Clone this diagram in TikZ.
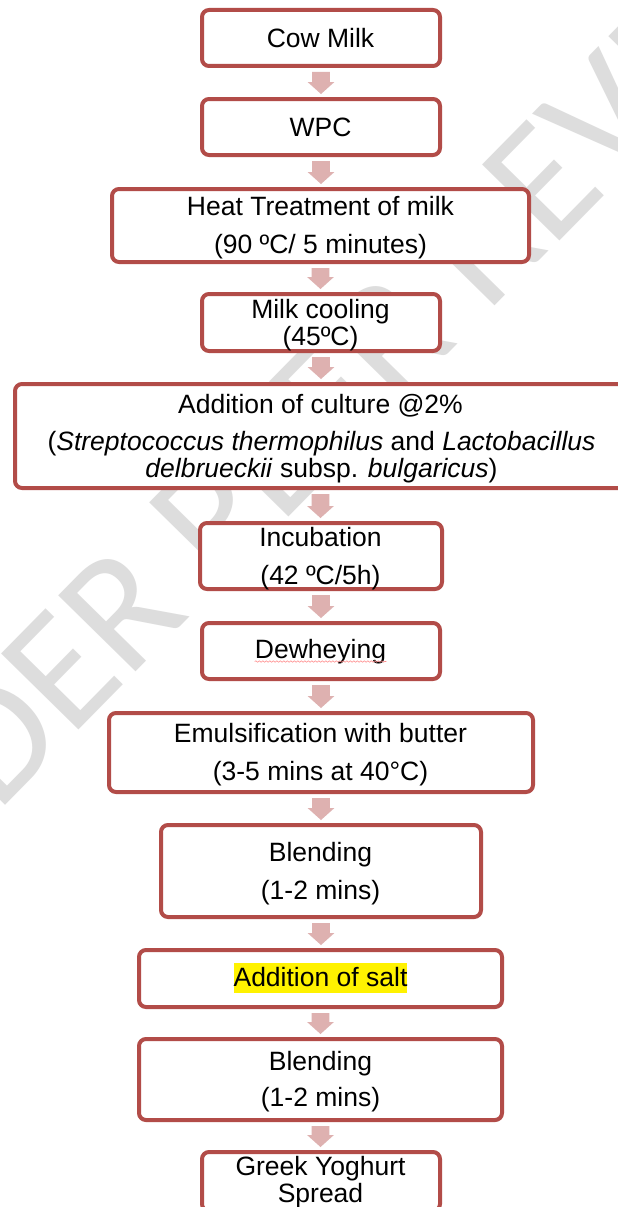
\documentclass[tikz,border=0pt]{standalone}
\usepackage{fontspec}
\setmainfont{Liberation Sans}
\newfontfamily\wmfont{Carlito}
\usetikzlibrary{calc,decorations.pathmorphing}
\definecolor{boxred}{RGB}{178,76,72}
\definecolor{arrowpink}{RGB}{222,177,176}
\definecolor{wmgray}{RGB}{221,221,221}
\tikzset{
  box/.style={draw=boxred, line width=4pt, rounded corners=7pt, fill=white, rectangle, inner sep=0pt},
  txt/.style={anchor=base, inner sep=0pt, font=\fontsize{26.5pt}{30pt}\selectfont},
  arrowfill/.style={fill=arrowpink},
}
\newcommand\flowarrow[2]{%
  \path[arrowfill] let \p1=(#1.south), \p2=(#2.north) in
   (\x1-8.8pt,\y1-4pt) -- (\x1+8.8pt,\y1-4pt) -- (\x1+8.8pt,\y2+15pt) -- (\x1+13.4pt,\y2+15pt)
   -- (\x1,\y2+3pt) -- (\x1-13.4pt,\y2+15pt) -- (\x1-8.8pt,\y2+15pt) -- cycle;}
\begin{document}
\begin{tikzpicture}[x=1pt,y=-1pt]
\fill[white] (0,0) rectangle (618,1207);
\useasboundingbox (0,0) rectangle (618,1207);
\clip (0,0) rectangle (618,1207);
% watermark
\node[anchor=base, rotate=45.5, text=wmgray, inner sep=0pt,
      font=\wmfont\fontsize{169pt}{169pt}\selectfont] (wm) at (357,447) {UNDER PEER REVIEW};
% boxes
\node[box, minimum width=238pt, minimum height=56pt] (cow)   at (321,38) {};
\node[box, minimum width=238pt, minimum height=56pt] (wpc)   at (321,127) {};
\node[box, minimum width=417pt, minimum height=73pt] (heat)  at (320.5,225.5) {};
\node[box, minimum width=238pt, minimum height=57pt] (cool)  at (321,322.5) {};
\node[box, minimum width=611pt, minimum height=104pt] (cult) at (320.5,436) {};
\node[box, minimum width=242pt, minimum height=66pt] (incub) at (321,556) {};
\node[box, minimum width=238pt, minimum height=56pt] (dew)   at (321,651) {};
\node[box, minimum width=424pt, minimum height=79pt] (emul)  at (321,752.5) {};
\node[box, minimum width=320pt, minimum height=92pt] (blendA) at (321,871) {};
\node[box, minimum width=363pt, minimum height=57pt] (salt)  at (320.5,978.5) {};
\node[box, minimum width=363pt, minimum height=81pt] (blendB) at (320.5,1079.5) {};
\node[box, minimum width=238pt, minimum height=59pt] (greek) at (321,1181.5) {};
% arrows
\flowarrow{cow}{wpc}
\flowarrow{wpc}{heat}
\flowarrow{heat}{cool}
\flowarrow{cool}{cult}
\flowarrow{cult}{incub}
\flowarrow{incub}{dew}
\flowarrow{dew}{emul}
\flowarrow{emul}{blendA}
\flowarrow{blendA}{salt}
\flowarrow{salt}{blendB}
\flowarrow{blendB}{greek}
% texts
\node[txt] (t1) at (320.5,47.5) {Cow Milk};
\node[txt] (t2) at (320.5,136) {WPC};
\node[txt] (t3a) at (320.5,215.5) {Heat Treatment of milk};
\node[txt] (t3b) at (320.5,253.5) {(90 ºC/ 5 minutes)};
\node[txt] (t4a) at (320.5,318.5) {Milk cooling};
\node[txt] (t4b) at (320.5,345.5) {(45ºC)};
\node[txt] (t5a) at (320.5,413) {Addition of culture @2\%};
\node[txt] (t5b) at (321.5,450) {(\textit{Streptococcus thermophilus} and \textit{Lactobacillus}};
\node[txt] (t5c) at (321.5,477) {\textit{delbrueckii} subsp. \textit{bulgaricus})};
\node[txt] (t6a) at (320.5,546.5) {Incubation};
\node[txt] (t6b) at (320.5,584.5) {(42 ºC/5h)};
\node[txt] (t7) at (320.5,658.5) {Dewheying};
\draw[red!45, line width=0.6pt, decorate, decoration={snake, amplitude=0.7pt, segment length=3.5pt}]
  ($(t7.base west)+(0,3)$) -- ($(t7.base east)+(0,3)$);
\node[txt] (t8a) at (320.5,742.5) {Emulsification with butter};
\node[txt] (t8b) at (320.5,780) {(3-5 mins at 40°C)};
\node[txt] (t9a) at (320.5,861.5) {Blending};
\node[txt] (t9b) at (320.5,899.5) {(1-2 mins)};
\node[txt, fill=yellow, text height=23pt, text depth=7pt] (t10) at (320.5,986) {Addition of salt};
\node[txt] (t11a) at (320.5,1070) {Blending};
\node[txt] (t11b) at (320.5,1106) {(1-2 mins)};
\node[txt] (t12a) at (320.5,1175) {Greek Yoghurt};
\node[txt] (t12b) at (320.5,1202) {Spread};
\end{tikzpicture}
\end{document}
